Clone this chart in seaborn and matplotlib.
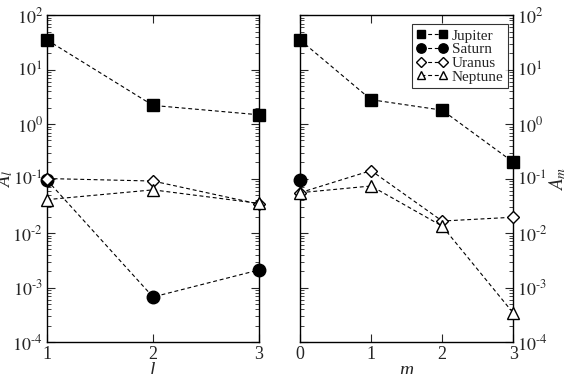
import numpy as np
import pandas as pd
import matplotlib
matplotlib.use("Agg")
import matplotlib.pyplot as plt
import seaborn as sns
from matplotlib.ticker import LogLocator, FuncFormatter, NullFormatter, FixedLocator

sns.set_style("ticks")
plt.rcParams['font.family'] = ['Liberation Serif', 'DejaVu Serif']
plt.rcParams['mathtext.fontset'] = 'stix'

planets = ["Jupiter", "Saturn", "Uranus", "Neptune"]

l_vals = [1, 2, 3]
A_l_jupiter = [35.0, 2.2, 1.48]
A_l_saturn = [0.094, 6.7e-4, 2.1e-3]
A_l_uranus = [0.10, 0.09, 0.034]
A_l_neptune = [0.041, 0.062, 0.035]

m_vals = [0, 1, 2, 3]
m_saturn = [0]
A_m_jupiter = [35.0, 2.8, 1.8, 0.2]
A_m_saturn = [0.095]
A_m_uranus = [0.055, 0.14, 0.0166, 0.0195]
A_m_neptune = [0.055, 0.073, 0.0134, 3.4e-4]

styles = {
    "Jupiter": dict(marker="s", mfc="black", ms=8),
    "Saturn": dict(marker="o", mfc="black", ms=9),
    "Uranus": dict(marker="D", mfc="white", ms=6.5),
    "Neptune": dict(marker="^", mfc="white", ms=8),
}


def pow_fmt(v, pos):
    e = int(round(np.log10(v)))
    s = str(e).replace("-", r"\text{-}")
    return r"$10^{%s}$" % s


fig = plt.figure(figsize=(5.64, 3.74), dpi=100)
axL = fig.add_axes([0.0833, 0.0856, 0.376, 0.874])
axR = fig.add_axes([0.532, 0.0856, 0.378, 0.874])

left_data = {"Jupiter": (l_vals, A_l_jupiter), "Saturn": (l_vals, A_l_saturn),
             "Uranus": (l_vals, A_l_uranus), "Neptune": (l_vals, A_l_neptune)}
right_data = {"Jupiter": (m_vals, A_m_jupiter), "Saturn": (m_saturn, A_m_saturn),
              "Uranus": (m_vals, A_m_uranus), "Neptune": (m_vals, A_m_neptune)}

for ax, data in [(axL, left_data), (axR, right_data)]:
    for p in planets:
        x, y = data[p]
        df = pd.DataFrame({"x": x, "y": y})
        st = styles[p]
        sns.lineplot(data=df, x="x", y="y", ax=ax, color="black", lw=0.8,
                     linestyle=(0, (3.5, 2.5)), marker=st["marker"], mfc=st["mfc"],
                     mec="black", mew=1.0, ms=st["ms"], label=p, legend=False,
                     clip_on=False, zorder=3)
    ax.set_yscale("log")
    ax.set_ylim(1e-4, 1e2)
    ax.yaxis.set_major_locator(LogLocator(base=10, numticks=10))
    ax.yaxis.set_minor_locator(LogLocator(base=10, subs=np.arange(2, 10), numticks=20))
    ax.yaxis.set_major_formatter(FuncFormatter(pow_fmt))
    ax.yaxis.set_minor_formatter(NullFormatter())
    ax.tick_params(axis="both", which="major", direction="in", length=6, width=0.8,
                   top=True, right=True, labelsize=13, pad=3)
    ax.tick_params(axis="y", which="minor", direction="in", length=3, width=0.6,
                   left=True, right=True)
    for s in ax.spines.values():
        s.set_linewidth(1.0)
        s.set_color("black")

axL.set_xlim(1, 3)
axL.xaxis.set_major_locator(FixedLocator(l_vals))
axL.set_xlabel("l", fontsize=14, fontstyle="italic")
axL.xaxis.set_label_coords(0.5, -0.06)
axL.set_ylabel("$A_l$", fontsize=14)
axL.yaxis.set_label_coords(-0.15, 0.5)

axR.set_xlim(0, 3)
axR.xaxis.set_major_locator(FixedLocator(m_vals))
axR.set_xlabel("m", fontsize=14, fontstyle="italic")
axR.xaxis.set_label_coords(0.5, -0.06)
axR.yaxis.tick_right()
axR.yaxis.set_label_position("right")
axR.tick_params(axis="y", which="both", left=True, right=True, labelleft=False, labelright=True)
axR.set_ylabel("$A_m$", fontsize=14, rotation=90)
axR.yaxis.set_label_coords(1.16, 0.5)

leg = axR.legend(loc="upper right", bbox_to_anchor=(0.976, 0.972), fontsize=11,
                 frameon=True, fancybox=False, edgecolor="black", handlelength=2.0,
                 numpoints=2, markerscale=0.75,
                 handletextpad=0.3, borderpad=0.3, labelspacing=0.0, borderaxespad=0)
leg.get_frame().set_linewidth(0.8)

fig.savefig("out.png", dpi=100)
